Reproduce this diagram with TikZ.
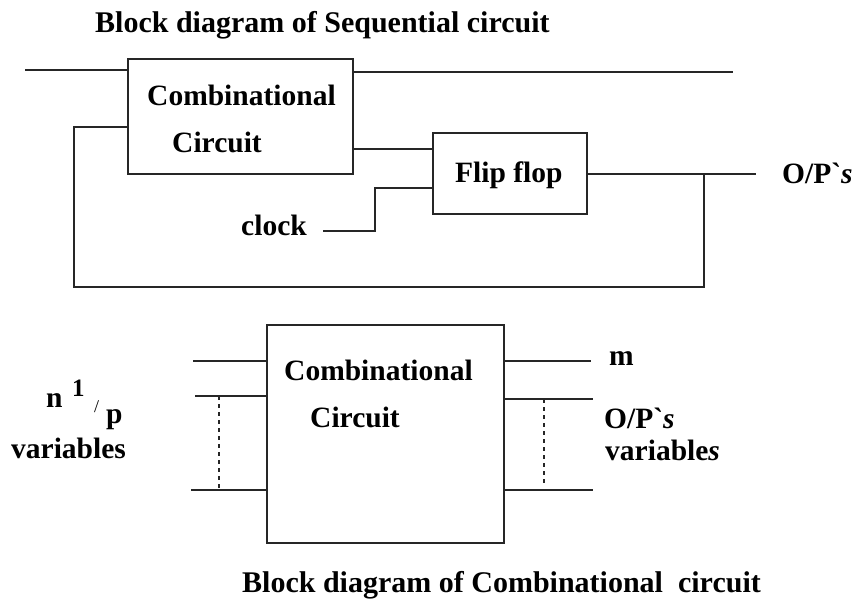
\documentclass[tikz,border=0pt]{standalone}
\usepackage{fontspec}
\setmainfont{Liberation Serif}
\newfontfamily\rawserif{Liberation Serif}
\newcommand{\gravetick}{{\rawserif\bfseries\char"0060}}
\begin{document}
\begin{tikzpicture}[x=1pt,y=-1pt,
  wire/.style={line width=1.6pt, black!85},
  blk/.style={draw=black!85, line width=1.6pt, rectangle, inner sep=0pt},
  lbl/.style={inner sep=0pt, anchor=base west, font=\fontsize{29.5}{34}\selectfont\bfseries},
  ttl/.style={lbl, font=\fontsize{30}{34}\selectfont\bfseries},
  dots/.style={line width=1.3pt, black!85, dash pattern=on 4pt off 4pt}]
\useasboundingbox[fill=white] (0,0) rectangle (854,603);
% ---------- Sequential circuit ----------
\node[ttl] (t1) at (95,32) {Block diagram of Sequential circuit};
\node[blk, minimum width=225pt, minimum height=115pt] (cc1) at (240.5,116.5) {};
\node[lbl] (cc1a) at (147,105) {Combinational};
\node[lbl] (cc1b) at (172,152) {Circuit};
\node[blk, minimum width=154pt, minimum height=81pt] (ff) at (510,173.5) {};
\node[lbl] (fft) at (455,182) {Flip flop};
\coordinate (inL) at (25,70);
\coordinate (outT) at (733,72);
\coordinate (mid) at (0,149);
\coordinate (fbA) at (74,127);
\coordinate (fbB) at (74,287);
\coordinate (jn) at (704,174);
\coordinate (outR) at (756,174);
\coordinate (ck1) at (375,188);
\coordinate (ck2) at (323,231);
\draw[wire] (inL) -- (inL -| cc1.west);
\draw[wire] (outT -| cc1.east) -- (outT);
\draw[wire] (mid -| cc1.east) -- (mid -| ff.west);
\draw[wire] (fbA -| cc1.west) -- (fbA) -- (fbB) -- (fbB -| jn) -- (jn);
\draw[wire] (outR -| ff.east) -- (outR);
\draw[wire] (ck1 -| ff.west) -- (ck1) -- (ck1 |- ck2) -- (ck2);
\node[lbl] (clk) at (241,235) {clock};
\node[lbl] (op1) at (782,183) {O/P\gravetick\textit{s}};
% ---------- Combinational circuit ----------
\node[blk, minimum width=237pt, minimum height=218pt] (cc2) at (385.5,434) {};
\node[lbl] (cc2a) at (284,380) {Combinational};
\node[lbl] (cc2b) at (310,427) {Circuit};
\coordinate (l1) at (193,361);
\coordinate (l2) at (195,396);
\coordinate (l3) at (191,490);
\coordinate (r1) at (591,361);
\coordinate (r2) at (593,399);
\coordinate (r3) at (593,490);
\draw[wire] (l1) -- (l1 -| cc2.west);
\draw[wire] (l2) -- (l2 -| cc2.west);
\draw[wire] (l3) -- (l3 -| cc2.west);
\draw[wire] (r1 -| cc2.east) -- (r1);
\draw[wire] (r2 -| cc2.east) -- (r2);
\draw[wire] (r3 -| cc2.east) -- (r3);
\coordinate (dl1) at (219,396);
\coordinate (dl2) at (219,490);
\coordinate (dr1) at (544,399);
\coordinate (dr2) at (544,483);
\draw[dots] (dl1) -- (dl2);
\draw[dots] (dr1) -- (dr2);
\node[lbl] (m) at (609,365) {m};
\node[lbl] (op2) at (604,428) {O/P\gravetick\textit{s}};
\node[lbl] (var2) at (605,460) {variable\textit{s}};
\node[lbl] (var1) at (11,458) {variables};
\node[lbl] (n) at (46,407) {n};
\node[lbl, font=\fontsize{25}{29}\selectfont\bfseries] (one) at (72,396) {1};
\node[lbl, font=\fontsize{18}{21}\selectfont] (sl) at (94,412) {/};
\node[lbl] (p) at (106,423) {p};
\node[ttl] (t2) at (242,592) {Block diagram of Combinational\ \ circuit};
\end{tikzpicture}
\end{document}
